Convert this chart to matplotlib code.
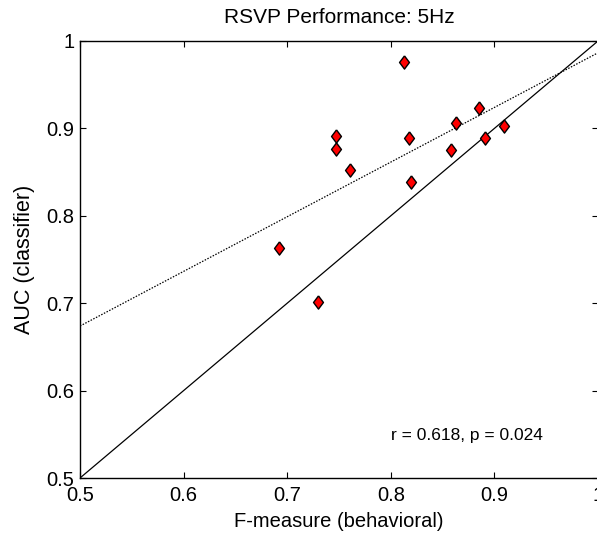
import numpy as np
import matplotlib
matplotlib.use("Agg")
import matplotlib.pyplot as plt

plt.rcParams["font.family"] = ["Liberation Sans", "DejaVu Sans"]

# F-measure (behavioral) vs AUC (classifier), one point per subject
f_measure = [0.8125, 0.885, 0.8633, 0.9094, 0.747, 0.8179, 0.8914,
             0.747, 0.8578, 0.7611, 0.8191, 0.6925, 0.7297]
auc = [0.9756, 0.9237, 0.9058, 0.9024, 0.8917, 0.8886, 0.8886,
       0.8764, 0.8749, 0.852, 0.8383, 0.7627, 0.7018]
stats_text = "r = 0.618, p = 0.024"

x_ticks = [0.5, 0.6, 0.7, 0.8, 0.9, 1]
y_ticks = [0.5, 0.6, 0.7, 0.8, 0.9, 1]

fig = plt.figure(figsize=(5.97, 5.34), dpi=100)
ax = fig.add_axes([80 / 597, 56 / 534, 518 / 597, 437 / 534])

# identity line and least-squares fit
ax.plot([0.5, 1], [0.5, 1], color="black", linewidth=0.9)
slope, intercept = np.polyfit(f_measure, auc, 1)
xs = np.array([0.5, 1.0])
ax.plot(xs, intercept + slope * xs, color="black", linewidth=0.9,
        linestyle=(0, (1.2, 1.2)))

diamond = [(0, 1), (0.75, 0), (0, -1), (-0.75, 0), (0, 1)]
ax.plot(f_measure, auc, linestyle="none", marker=diamond, markersize=9.5,
        markerfacecolor="red", markeredgecolor="black", markeredgewidth=1.0)

ax.text(0.8, 0.549, stats_text, fontsize=12.5, va="center", ha="left")

ax.set_xlim(0.5, 1)
ax.set_ylim(0.5, 1)
ax.set_xticks(x_ticks)
ax.set_yticks(y_ticks)
ax.set_xticklabels([str(t) for t in x_ticks])
ax.set_yticklabels([str(t) for t in y_ticks])
ax.tick_params(direction="in", length=4, width=0.8, labelsize=14.5,
               top=True, right=True)
ax.tick_params(axis="x", pad=6)
ax.tick_params(axis="y", pad=4)
for s in ax.spines.values():
    s.set_linewidth(1.0)

ax.set_title("RSVP Performance: 5Hz", fontsize=15, pad=13)
ax.set_xlabel("F-measure (behavioral)", fontsize=14.5, labelpad=5)
ax.set_ylabel("AUC (classifier)", fontsize=15.5, labelpad=8)

fig.savefig("out.png", dpi=100)
